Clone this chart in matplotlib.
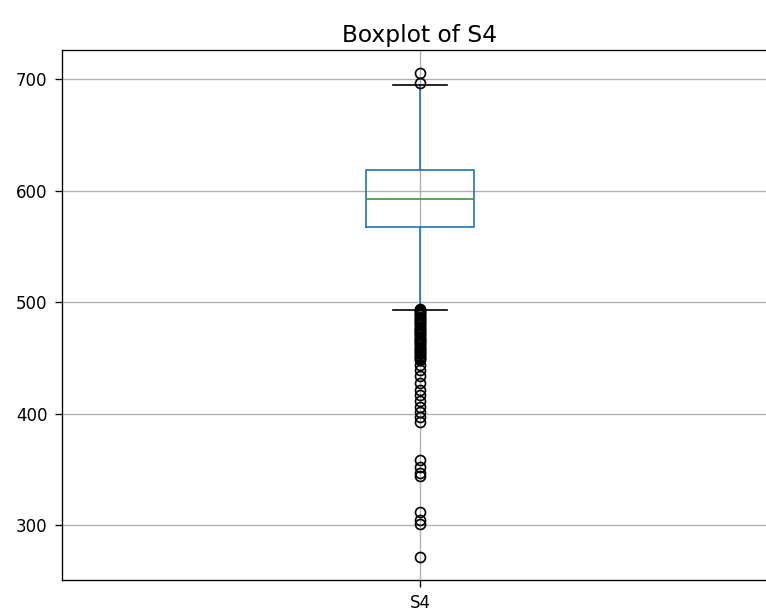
import matplotlib
matplotlib.use("Agg")
import matplotlib.pyplot as plt

# summary stats
label = "S4"
q1 = 567.7
med = 592.8
q3 = 618.0
whislo = 492.8
whishi = 694.6

# outliers above the upper whisker
high_fliers = [705.4, 696.4]
# outliers below the lower whisker (dense block, then sparse tail)
low_fliers = [494, 493, 492, 491, 490, 489, 488, 487, 486, 485, 484, 483,
              482, 481, 480, 479, 478, 477, 476, 475, 474, 473, 472, 471,
              470, 469, 468, 467, 466, 465, 464, 463, 462, 461, 460, 459,
              458, 457, 456, 455, 454, 453, 452, 451, 450, 449, 448,
              443.5, 439, 433.6, 427, 421, 416.6, 411, 406, 401, 397, 392,
              358, 352, 346.6, 344, 311.7, 304.5, 301, 271]

stats = [dict(label=label, q1=q1, med=med, q3=q3, whislo=whislo,
              whishi=whishi, fliers=high_fliers + low_fliers)]

fig = plt.figure(figsize=(766 / 120, 615 / 120), dpi=120)
# the right part of the axes runs past the figure edge, like the reference crop
ax = fig.add_axes([62 / 766, 35 / 615, 716 / 766, 530 / 615])

ax.bxp(stats,
       boxprops=dict(color="C0"),
       whiskerprops=dict(color="C0"),
       capprops=dict(color="black"),
       medianprops=dict(color="C2"),
       flierprops=dict(marker="o", markeredgecolor="black", markerfacecolor="none"))

ax.set_xlim(0.5, 1.5)
ax.set_ylim(250.7, 726)
ax.grid(True)
ax.tick_params(length=4.2, pad=4.5)
ax.set_title("Boxplot of S4", fontsize=14, pad=5)

fig.savefig("out.png", dpi=120)
